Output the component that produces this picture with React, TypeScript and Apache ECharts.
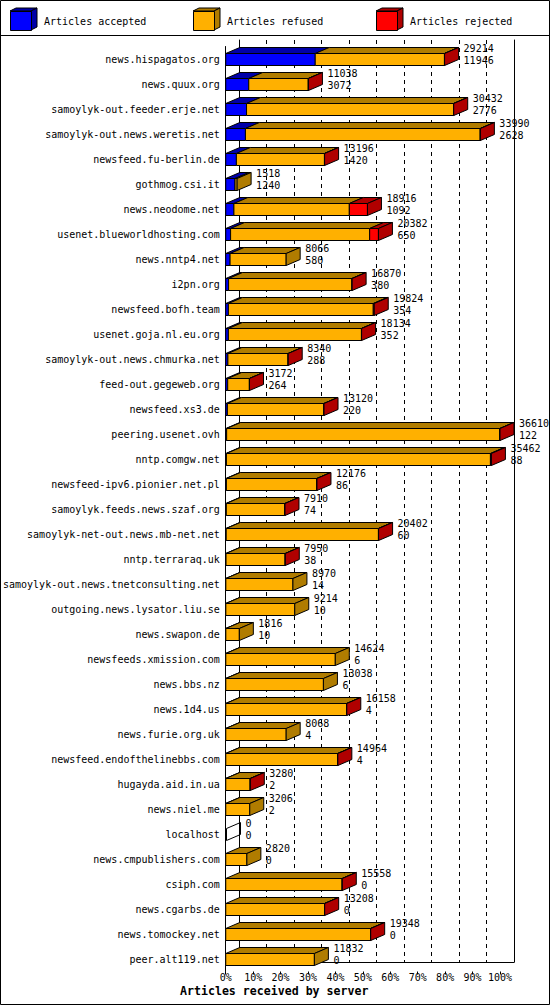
import { useEffect, useRef } from "react";
import * as echarts from "echarts";

const servers = [
  "news.hispagatos.org",
  "news.quux.org",
  "samoylyk-out.feeder.erje.net",
  "samoylyk-out.news.weretis.net",
  "newsfeed.fu-berlin.de",
  "gothmog.csi.it",
  "news.neodome.net",
  "usenet.blueworldhosting.com",
  "news.nntp4.net",
  "i2pn.org",
  "newsfeed.bofh.team",
  "usenet.goja.nl.eu.org",
  "samoylyk-out.news.chmurka.net",
  "feed-out.gegeweb.org",
  "newsfeed.xs3.de",
  "peering.usenet.ovh",
  "nntp.comgw.net",
  "newsfeed-ipv6.pionier.net.pl",
  "samoylyk.feeds.news.szaf.org",
  "samoylyk-net-out.news.mb-net.net",
  "nntp.terraraq.uk",
  "samoylyk-out.news.tnetconsulting.net",
  "outgoing.news.lysator.liu.se",
  "news.swapon.de",
  "newsfeeds.xmission.com",
  "news.bbs.nz",
  "news.1d4.us",
  "news.furie.org.uk",
  "newsfeed.endofthelinebbs.com",
  "hugayda.aid.in.ua",
  "news.niel.me",
  "localhost",
  "news.cmpublishers.com",
  "csiph.com",
  "news.cgarbs.de",
  "news.tomockey.net",
  "peer.alt119.net",
];

// total offered (upper label) and accepted (lower label)
const offered = [
  29214, 11038, 30432, 33990, 13196, 1518, 18916, 20382, 8066, 16870, 19824,
  18134, 8340, 3172, 13120, 36610, 35462, 12176, 7910, 20402, 7950, 8970, 9214,
  1816, 14624, 13038, 16158, 8068, 14964, 3280, 3206, 0, 2820, 15558, 13208,
  19348, 11832,
];
const accepted = [
  11946, 3072, 2776, 2628, 1420, 1240, 1092, 650, 580, 380, 354, 352, 288, 264,
  220, 122, 88, 86, 74, 60, 38, 14, 10, 10, 6, 6, 4, 4, 4, 2, 2, 0, 0, 0, 0, 0,
  0,
];
const rejected = [
  20, 20, 20, 20, 20, 0, 2420, 1170, 0, 20, 130, 20, 20, 20, 20, 20, 130, 20, 20,
  20, 20, 0, 0, 0, 0, 0, 20, 0, 20, 20, 0, 0, 0, 20, 20, 20, 0,
];
const refused = [
  17248, 7946, 27636, 31342, 11756, 278, 15404, 18562, 7486, 16470, 19340,
  17762, 8032, 2888, 12880, 36468, 35244, 12070, 7816, 20322, 7892, 8956, 9204,
  1806, 14618, 13032, 16134, 8064, 14940, 3258, 3204, 0, 2820, 15538, 13188,
  19328, 11832,
];

const seriesNames = ["Articles accepted", "Articles refused", "Articles rejected"];
const frontColors = ["#0000ff", "#ffb000", "#ff0000"];
const darkColors = ["#0000a8", "#b07c00", "#b00000"];

const maxOffered = 36610;
const FONT = "DejaVu Sans Mono";
const DX = 14;
const DY = 6;
const BAR_H = 12;

export default function App() {
  const chartRef = useRef<HTMLDivElement>(null);

  useEffect(() => {
    if (!chartRef.current) return;
    const chart = echarts.init(chartRef.current, null, { renderer: "svg" });

    const rows = servers.map((_, i) => [i, accepted[i], refused[i], rejected[i], offered[i]]);

    const legendItems: any[] = seriesNames.map((name, k) => {
      const x = [10, 193, 376][k];
      return {
        type: "group",
        x,
        y: 0,
        children: [
          {
            type: "polygon",
            shape: { points: [[0, 11], [6, 8], [27, 8], [21, 11]] },
            style: { fill: darkColors[k], stroke: "#000", lineWidth: 1 },
          },
          {
            type: "polygon",
            shape: { points: [[21, 11], [27, 8], [27, 27], [21, 30]] },
            style: { fill: darkColors[k], stroke: "#000", lineWidth: 1 },
          },
          {
            type: "rect",
            shape: { x: 0.5, y: 11.5, width: 21, height: 19 },
            style: { fill: frontColors[k], stroke: "#000", lineWidth: 1 },
          },
          {
            type: "text",
            x: 34,
            y: 21,
            style: {
              text: name,
              fill: "#000",
              font: `10px "${FONT}"`,
              verticalAlign: "middle",
            },
          },
        ],
      };
    });

    chart.setOption({
      animation: false,
      backgroundColor: "#fff",
      title: {
        text: "Articles received by server",
        left: 180,
        top: 985,
        padding: 0,
        textStyle: { fontFamily: FONT, fontWeight: "bold", fontSize: 11.6, color: "#000" },
      },
      graphic: [
        {
          type: "rect",
          shape: { x: 0.5, y: 0.5, width: 549, height: 1004 },
          style: { fill: "none", stroke: "#000", lineWidth: 1 },
          z: 100,
        },
        {
          type: "line",
          shape: { x1: 0, y1: 35.5, x2: 550, y2: 35.5 },
          style: { stroke: "#000", lineWidth: 1 },
        },
        ...legendItems,
      ],
      grid: [
        { left: 225, right: 50, top: 46.5, bottom: 33.5 },
        { left: 239, right: 36, top: 40, bottom: 43 },
      ],
      xAxis: [
        {
          gridIndex: 0,
          type: "value",
          min: 0,
          max: maxOffered,
          interval: maxOffered / 10,
          axisLine: { show: false },
          axisTick: { show: true, length: 3, lineStyle: { color: "#000" } },
          splitLine: { show: false },
          axisLabel: {
            margin: 1,
            color: "#000",
            fontFamily: FONT,
            fontSize: 10,
            formatter: (v: number) => Math.round((v / maxOffered) * 100) + "%",
          },
        },
        {
          gridIndex: 1,
          type: "value",
          min: 0,
          max: maxOffered,
          interval: maxOffered / 10,
          axisLine: { show: true, onZero: false, lineStyle: { color: "#000" } },
          axisTick: { show: false },
          axisLabel: { show: false },
          splitLine: { show: true, lineStyle: { color: "#000", type: [4, 4] } },
        },
      ],
      yAxis: [
        {
          gridIndex: 0,
          type: "category",
          data: servers,
          inverse: true,
          axisLine: { show: true, lineStyle: { color: "#000" } },
          axisTick: { show: false },
          axisLabel: { margin: 6, color: "#000", fontFamily: FONT, fontSize: 10 },
          splitLine: { show: false },
        },
        {
          gridIndex: 1,
          type: "value",
          min: 0,
          max: 1,
          axisLine: { show: true, onZero: false, lineStyle: { color: "#000" } },
          axisTick: { show: false },
          axisLabel: { show: false },
          splitLine: { show: false },
        },
        {
          gridIndex: 1,
          type: "value",
          position: "right",
          min: 0,
          max: 1,
          axisLine: { show: true, onZero: false, lineStyle: { color: "#000" } },
          axisTick: { show: false },
          axisLabel: { show: false },
          splitLine: { show: false },
        },
      ],
      series: [
        {
          type: "custom",
          xAxisIndex: 0,
          yAxisIndex: 0,
          clip: false,
          z: 10,
          encode: { x: [1, 4], y: 0 },
          data: rows,
          renderItem: (_params: any, api: any) => {
            const idx = api.value(0);
            const vals = [api.value(1), api.value(2), api.value(3)];
            const total = api.value(4);
            const yc = api.coord([0, idx])[1];
            const top = Math.round(yc - BAR_H / 2) + 0.5;
            const children: any[] = [];
            let cum = 0;
            let last = -1;
            let xe = Math.round(api.coord([0, idx])[0]) + 0.5;
            vals.forEach((v: number, k: number) => {
              if (!(v > 0)) return;
              const xs = api.coord([cum, idx])[0];
              cum += v;
              xe = api.coord([cum, idx])[0];
              children.push({
                type: "polygon",
                shape: { points: [[xs, top], [xs + DX, top - DY], [xe + DX, top - DY], [xe, top]] },
                style: { fill: darkColors[k], stroke: "#000", lineWidth: 1 },
              });
              children.push({
                type: "rect",
                shape: { x: xs, y: top, width: xe - xs, height: BAR_H },
                style: { fill: frontColors[k], stroke: "#000", lineWidth: 1 },
              });
              last = k;
            });
            children.push({
              type: "polygon",
              shape: {
                points: [[xe, top], [xe + DX, top - DY], [xe + DX, top - DY + BAR_H], [xe, top + BAR_H]],
              },
              style: { fill: last >= 0 ? darkColors[last] : "none", stroke: "#000", lineWidth: 1 },
            });
            children.push({
              type: "text",
              x: xe + DX + 5,
              y: top + 1,
              style: {
                text: `${total}\n${api.value(1)}`,
                fill: "#000",
                font: `10px "${FONT}"`,
                lineHeight: 12,
                verticalAlign: "middle",
              },
            });
            return { type: "group", children };
          },
        },
      ],
    });

    return () => {
      chart.dispose();
    };
  }, []);

  return (
    <div
      ref={chartRef}
      style={{ position: "absolute", left: 0, top: 0, width: 550, height: 1005, background: "#fff" }}
    />
  );
}
